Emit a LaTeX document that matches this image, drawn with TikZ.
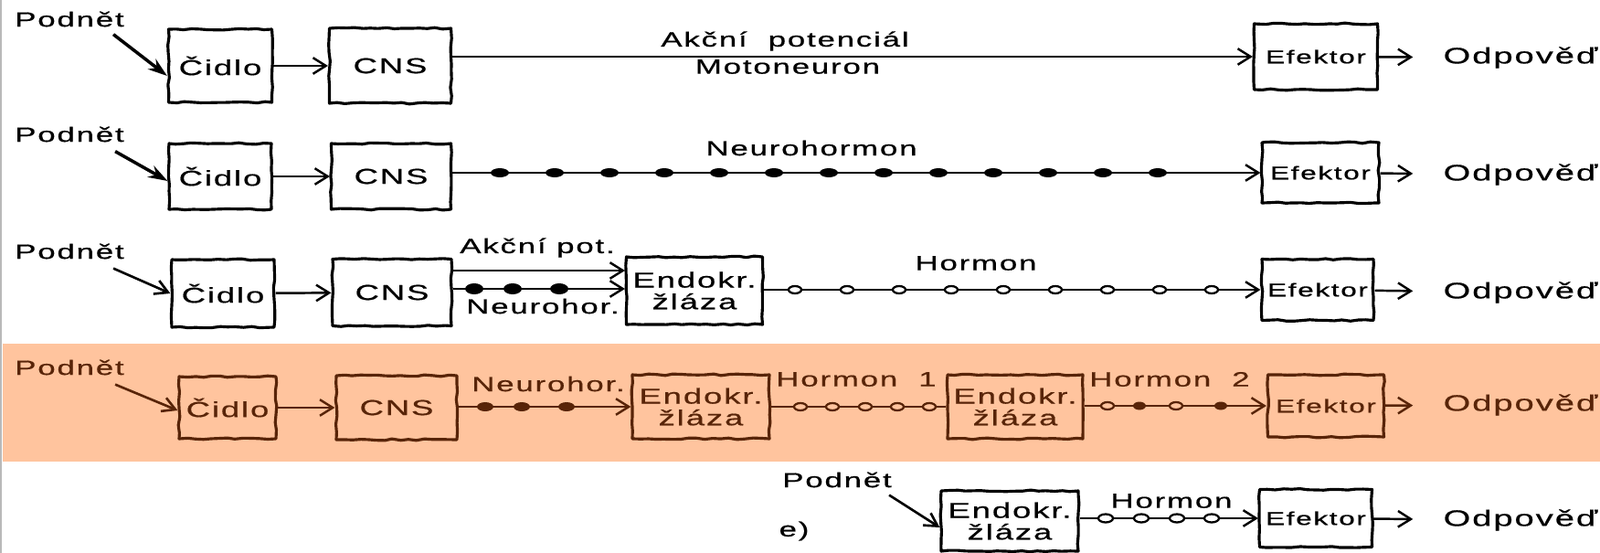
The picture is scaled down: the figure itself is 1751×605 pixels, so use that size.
\documentclass[tikz,border=0pt]{standalone}
\usepackage{fontspec}
\setmainfont{Liberation Sans}[FakeStretch=1.55,LetterSpace=8,FakeBold=0.6]
\usetikzlibrary{arrows.meta,decorations.pathmorphing}
\definecolor{band}{RGB}{255,196,158}
\definecolor{brn}{RGB}{88,36,8}

\begin{document}
\begin{tikzpicture}[x=0.02cm,y=-0.02cm,
  box/.style 2 args={draw,line width=1.8pt,inner sep=0pt,align=center,
    line join=round,decorate,decoration={random steps,segment length=5pt,amplitude=0.5pt},
    minimum width=#1*0.02cm,minimum height=#2*0.02cm,
    font=\fontsize{13.4}{13.5}\selectfont},
  efk/.style={font=\fontsize{11.6}{12}\selectfont},
  lbl/.style={inner sep=0pt,font=\fontsize{12.8}{13}\selectfont},
  ans/.style={inner sep=0pt,font=\fontsize{14}{14}\selectfont},
  sig/.style={line width=1.4pt,-{Straight Barb[length=8pt,width=10pt,line width=1.4pt]}},
  resp/.style={sig,shorten >=0.66cm},
  stim/.style={line width=2pt,-{Stealth[length=12pt,width=8pt]}},
  stimb/.style={line width=1.5pt,-{Straight Barb[length=8pt,width=9pt,line width=1.5pt]}}]
  \useasboundingbox (0,0) rectangle (1751,605);
  % band and edge
  \fill[band] (3,376) rectangle (1751,505);
  \draw[gray!55,line width=0.8pt] (1,0) -- (1,605);

  % a) motoneuron
  \node[lbl] (pod1) at (76,21) {Podnět};
  \node[box={113}{80}] (cid1) at (241,72) {Čidlo};
  \node[box={133}{82}] (cns1) at (427,72) {CNS};
  \node[box={135}{72},efk] (ef1) at (1440,62) {Efektor};
  \node[ans] (od1) at (1664,63) {Odpověď};
  \node[lbl] (ap1) at (859,45) {Akční\ \ potenciál};
  \node[lbl] (mn1) at (862,73) {Motoneuron};
  \draw[stim] ([xshift=-0.24cm,yshift=-0.16cm]pod1.south east) -- ([yshift=-0.22cm]cid1.west);
  \draw[sig] (cid1) -- (cns1);
  \draw[sig] (cns1.east |- ef1) -- (ef1);
  \draw[resp] (ef1) -- (od1);

  % b) neurohormon
  \node[lbl] (pod2) at (76,147) {Podnět};
  \node[box={112}{72}] (cid2) at (241,193) {Čidlo};
  \node[box={131}{72}] (cns2) at (428,193) {CNS};
  \node[box={128}{66},efk] (ef2) at (1445,189) {Efektor};
  \node[ans] (od2) at (1664,191) {Odpověď};
  \node[lbl] (nh2) at (888,162) {Neurohormon};
  \draw[stim] ([xshift=-0.2cm,yshift=-0.2cm]pod2.south east) -- ([yshift=-0.1cm]cid2.west);
  \draw[sig] (cid2) -- (cns2);
  \draw[sig] (cns2.east |- ef2) -- (ef2);
  \foreach \x in {547,607,...,1267}
    \fill (\x,189) ellipse [x radius=10,y radius=5];
  \draw[resp] (ef2) -- (od2);

  % c) akcni pot. + neurohor. -> endokrinni zlaza
  \node[lbl] (pod3) at (76,275) {Podnět};
  \node[box={112}{74}] (cid3) at (244,321) {Čidlo};
  \node[box={130}{73}] (cns3) at (429,320) {CNS};
  \node[box={149}{74}] (en3) at (760,318) {Endokr.\\žláza};
  \node[box={122}{67},efk] (ef3) at (1442,317) {Efektor};
  \node[ans] (od3) at (1664,320) {Odpověď};
  \node[lbl] (ap3) at (588,271) {Akční pot.};
  \node[lbl] (nh3) at (594,335) {Neurohor.};
  \node[lbl] (hm3) at (1068,288) {Hormon};
  \draw[stimb] ([xshift=-0.24cm,yshift=-0.2cm]pod3.south east) -- (cid3.west);
  \draw[sig] (cid3) -- (cns3);
  \draw[sig] ([yshift=0.48cm]cns3.east) -- ([yshift=0.48cm]cns3.east -| en3.west);
  \draw[sig] ([yshift=0.08cm]cns3.east) -- ([yshift=0.08cm]cns3.east -| en3.west);
  \foreach \x in {519,561,612}
    \fill (\x,316) ellipse [x radius=10,y radius=6];
  \draw[sig] (en3.east |- ef3) -- (ef3);
  \foreach \x in {870,927,...,1330}
    \filldraw[fill=white,line width=1.3pt] (\x,317) ellipse [x radius=7,y radius=4];
  \draw[resp] (ef3) -- (od3);

  % d) neurohor. -> hormon 1 -> hormon 2
  \begin{scope}[color=brn]
  \node[lbl] (pod4) at (76,402) {Podnět};
  \node[box={106}{68}] (cid4) at (249,446) {Čidlo};
  \node[box={132}{70}] (cns4) at (434,446) {CNS};
  \node[box={150}{70}] (en4a) at (767,445) {Endokr.\\žláza};
  \node[box={148}{70}] (en4b) at (1111,445) {Endokr.\\žláza};
  \node[box={127}{68},efk] (ef4) at (1451,444) {Efektor};
  \node[ans] (od4) at (1664,443) {Odpověď};
  \node[lbl] (nh4) at (600,420) {Neurohor.};
  \node[lbl] (hm4a) at (937,415) {Hormon\ \ 1};
  \node[lbl] (hm4b) at (1280,415) {Hormon\ \ 2};
  \draw[stimb] ([xshift=-0.2cm,yshift=-0.2cm]pod4.south east) -- ([yshift=-0.06cm]cid4.west);
  \draw[sig] (cid4) -- (cns4);
  \draw[sig] (cns4.east |- en4a) -- (en4a);
  \foreach \x in {531,571,620}
    \fill (\x,445) ellipse [x radius=9,y radius=5];
  \draw[line width=1.4pt] (en4a) -- (en4b);
  \foreach \x in {876,911,947,982,1017}
    \filldraw[fill=band,line width=1.3pt] (\x,445) ellipse [x radius=7,y radius=4];
  \draw[sig] (en4b.east |- ef4) -- (ef4);
  \foreach \x in {1212,1287}
    \filldraw[fill=band,line width=1.3pt] (\x,444) ellipse [x radius=7,y radius=4];
  \foreach \x in {1247,1336}
    \fill (\x,444) ellipse [x radius=7,y radius=4.5];
  \draw[resp] (ef4) -- (od4);
  \end{scope}

  % e) endokrinni zlaza primo
  \node[lbl] (pod5) at (916,525) {Podnět};
  \node[lbl] (lbe) at (869,581) {e)};
  \node[box={150}{66}] (en5) at (1105,570) {Endokr.\\žláza};
  \node[box={123}{63},efk] (ef5) at (1440,567) {Efektor};
  \node[ans] (od5) at (1664,569) {Odpověď};
  \node[lbl] (hm5) at (1282,548) {Hormon};
  \draw[stimb] ([xshift=-0.06cm,yshift=-0.16cm]pod5.south east) -- ([yshift=-0.14cm]en5.west);
  \draw[sig] (en5.east |- ef5) -- (ef5);
  \foreach \x in {1210,1249,1288,1326}
    \filldraw[fill=white,line width=1.3pt] (\x,567) ellipse [x radius=8,y radius=4.5];
  \draw[resp] (ef5) -- (od5);
\end{tikzpicture}
\end{document}
